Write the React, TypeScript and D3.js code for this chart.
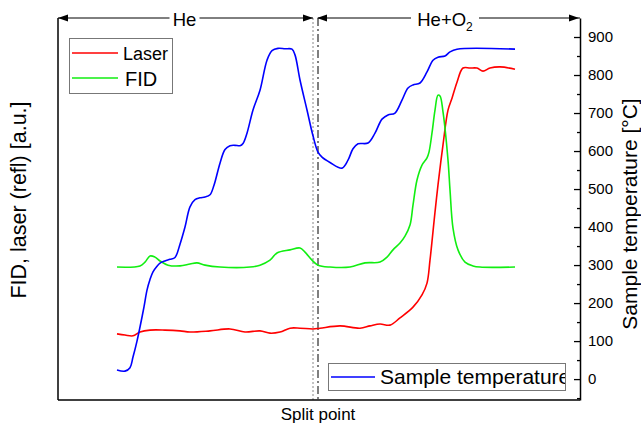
import React, { useEffect, useRef } from "react";
import * as d3 from "d3";

// ---------- DATA (time in a.u. from the start of the record) ----------
const tempTime = [59, 67, 72, 75, 79, 82, 86, 89, 92, 95, 99, 102, 107, 112, 117, 122, 127, 132, 137, 142, 147, 152, 156, 162, 167, 172, 177, 182, 185, 189, 195, 202, 209, 214, 220, 227, 234, 237, 242, 249, 255, 260, 264, 272, 284, 290, 295, 300, 310, 317, 324, 330, 337, 344, 350, 355, 362, 369, 375, 380, 387, 392, 399, 457];
const tempValues = [24, 21, 30, 58, 100, 137, 190, 234, 262, 282, 297, 305, 311, 315, 320, 355, 400, 453, 472, 477, 479, 485, 510, 568, 604, 614, 615, 614, 620, 647, 708, 760, 839, 864, 870, 869, 868, 853, 787, 708, 640, 597, 584, 570, 555, 576, 606, 619, 621, 647, 684, 695, 700, 734, 766, 774, 779, 808, 839, 847, 850, 861, 868, 868];

const laserTime = [59, 67, 75, 82, 92, 107, 122, 132, 152, 172, 187, 202, 212, 222, 232, 242, 255, 262, 282, 302, 312, 322, 332, 342, 355, 364, 369, 372, 377, 380, 385, 390, 394, 399, 405, 412, 419, 425, 432, 442, 457];
const laserValues = [17.3, 17.0, 16.8, 17.8, 18.3, 18.3, 18.1, 17.8, 18.1, 18.6, 17.8, 18.1, 17.5, 17.8, 18.8, 18.8, 18.6, 18.8, 19.4, 18.8, 19.4, 19.9, 19.6, 21.5, 24.3, 27.5, 30.6, 36.6, 49.2, 56.3, 66.8, 75.9, 79.0, 83.2, 86.9, 86.9, 86.9, 86.1, 86.9, 87.2, 86.6];

const fidTime = [59, 82, 87, 92, 97, 102, 110, 122, 132, 139, 147, 162, 192, 202, 212, 219, 232, 242, 247, 254, 260, 272, 292, 307, 322, 329, 335, 342, 347, 352, 355, 359, 364, 369, 371, 374, 377, 380, 382, 385, 390, 392, 395, 400, 407, 415, 422, 457];
const fidValues = [34.8, 35.1, 36.1, 37.7, 37.4, 36.4, 35.3, 35.1, 35.6, 35.9, 35.3, 34.8, 34.8, 35.3, 36.6, 38.5, 39.3, 39.8, 38.7, 36.6, 35.3, 34.8, 34.8, 35.9, 36.1, 37.4, 39.3, 41.1, 42.9, 45.8, 51.0, 57.6, 61.5, 63.4, 64.9, 69.9, 75.9, 79.8, 79.6, 75.4, 62.8, 55.0, 45.0, 39.3, 36.1, 35.1, 34.8, 34.8];

const tempTicks = [0, 100, 200, 300, 400, 500, 600, 700, 800, 900];
const tempMinorTicks = [-50, 50, 150, 250, 350, 450, 550, 650, 750, 850];
const splitTimes = [255, 260]; // dotted marker, dash-dot split line
const phaseLabels = ["He", "He+O"];

const W = 641, H = 423;
const L = 58, R = 580, T = 18, B = 400;
const FONT = "'Liberation Sans', Arial, sans-serif";

export default function App() {
  const axisRef = useRef<SVGGElement>(null);

  const x = d3.scaleLinear().domain([0, 522]).range([L, R]);
  const yT = d3.scaleLinear().domain([-55, 950]).range([B, T]);
  const yA = d3.scaleLinear().domain([0, 100]).range([B, T]);

  const lineT = d3.line<number>().x((_, i) => x(tempTime[i])).y((d) => yT(d)).curve(d3.curveCatmullRom.alpha(0.5));
  const lineL = d3.line<number>().x((_, i) => x(laserTime[i])).y((d) => yA(d)).curve(d3.curveCatmullRom.alpha(0.5));
  const lineF = d3.line<number>().x((_, i) => x(fidTime[i])).y((d) => yA(d)).curve(d3.curveCatmullRom.alpha(0.5));

  useEffect(() => {
    const g = d3.select(axisRef.current);
    g.selectAll("*").remove();
    const major = d3.axisRight(yT).tickValues(tempTicks).tickSize(-6).tickSizeOuter(0).tickPadding(8);
    const gm = g.append("g").attr("transform", `translate(${R},0)`).call(major);
    gm.select(".domain").attr("stroke", "#000").attr("stroke-width", 1.5);
    gm.selectAll(".tick line").attr("stroke", "#000").attr("stroke-width", 1.3);
    gm.selectAll(".tick text").attr("font-family", FONT).attr("font-size", 15).attr("fill", "#000");
    const minor = d3.axisRight(yT).tickValues(tempMinorTicks).tickSize(-3).tickSizeOuter(0).tickFormat(() => "");
    const gn = g.append("g").attr("transform", `translate(${R},0)`).call(minor);
    gn.select(".domain").remove();
    gn.selectAll(".tick line").attr("stroke", "#000").attr("stroke-width", 1.3);
  }, []);

  const arrow = (tipX: number, dir: number) => {
    const len = 10, hw = 3.5;
    return `M${tipX},${T} L${tipX - dir * len},${T - hw} L${tipX - dir * len},${T + hw} Z`;
  };

  const xs0 = x(splitTimes[0]);
  const xs1 = x(splitTimes[1]);
  const heMid = (L + xs0) / 2 - 1;
  const hoMid = (xs1 + R) / 2 - 4;

  return (
    <svg width={W} height={H} style={{ position: "absolute", left: 0, top: 0, background: "#fff" }}>
      <defs>
        <clipPath id="leg2clip">
          <rect x={328} y={363} width={237} height={27} />
        </clipPath>
      </defs>
      {/* split lines */}
      <line x1={xs0} x2={xs0} y1={T} y2={B} stroke="#888" strokeWidth={1} strokeDasharray="2,2" />
      <line x1={xs1} x2={xs1} y1={T} y2={B} stroke="#555" strokeWidth={1.5} strokeDasharray="8,3,2,3" />

      {/* curves */}
      <path d={lineL(laserValues) || ""} fill="none" stroke="#ff0000" strokeWidth={1.6} />
      <path d={lineF(fidValues) || ""} fill="none" stroke="#11ee11" strokeWidth={1.6} />
      <path d={lineT(tempValues) || ""} fill="none" stroke="#0000ff" strokeWidth={1.6} />

      {/* frame */}
      <line x1={L} x2={L} y1={T} y2={B} stroke="#000" strokeWidth={1.5} />
      <line x1={L} x2={R} y1={B} y2={B} stroke="#000" strokeWidth={1.5} />
      <g ref={axisRef} />

      {/* top phase arrows */}
      <line x1={L} x2={xs0} y1={T} y2={T} stroke="#000" strokeWidth={1} />
      <line x1={xs1} x2={R} y1={T} y2={T} stroke="#000" strokeWidth={1} />
      <path d={arrow(L, -1)} fill="#000" />
      <path d={arrow(xs0, 1)} fill="#000" />
      <path d={arrow(xs1 - 1, -1)} fill="#000" />
      <path d={arrow(R - 1, 1)} fill="#000" />
      <rect x={heMid - 15} y={T - 8} width={30} height={16} fill="#fff" />
      <text x={heMid} y={T + 8} textAnchor="middle" fontFamily={FONT} fontSize={18.5}>{phaseLabels[0]}</text>
      <rect x={hoMid - 34} y={T - 8} width={68} height={16} fill="#fff" />
      <text x={hoMid} y={T + 8} textAnchor="middle" fontFamily={FONT} fontSize={18.5}>
        {phaseLabels[1]}
        <tspan fontSize={12} dy={5}>2</tspan>
      </text>

      {/* axis titles */}
      <text transform={`translate(26,200) rotate(-90)`} textAnchor="middle" fontFamily={FONT} fontSize={21.5}>FID, laser (refl) [a.u.]</text>
      <text transform={`translate(637,214) rotate(-90)`} textAnchor="middle" fontFamily={FONT} fontSize={21}>Sample temperature [°C]</text>
      <text x={318} y={420} textAnchor="middle" fontFamily={FONT} fontSize={17}>Split point</text>

      {/* legend 1 */}
      <rect x={69.5} y={38.5} width={103} height={55} fill="#fff" stroke="#777" strokeWidth={1} />
      <line x1={72} x2={118} y1={53} y2={53} stroke="#ff0000" strokeWidth={1.6} />
      <text x={123} y={60} fontFamily={FONT} fontSize={18}>Laser</text>
      <line x1={72} x2={118} y1={78} y2={78} stroke="#11ee11" strokeWidth={1.6} />
      <text x={125} y={86} fontFamily={FONT} fontSize={20}>FID</text>

      {/* legend 2 */}
      <rect x={328.5} y={363.5} width={237} height={27} fill="#fff" stroke="#777" strokeWidth={1} />
      <line x1={331} x2={375} y1={377} y2={377} stroke="#0000ff" strokeWidth={1.6} />
      <g clipPath="url(#leg2clip)">
        <text x={380} y={384} fontFamily={FONT} fontSize={21}>Sample temperature</text>
      </g>
    </svg>
  );
}
